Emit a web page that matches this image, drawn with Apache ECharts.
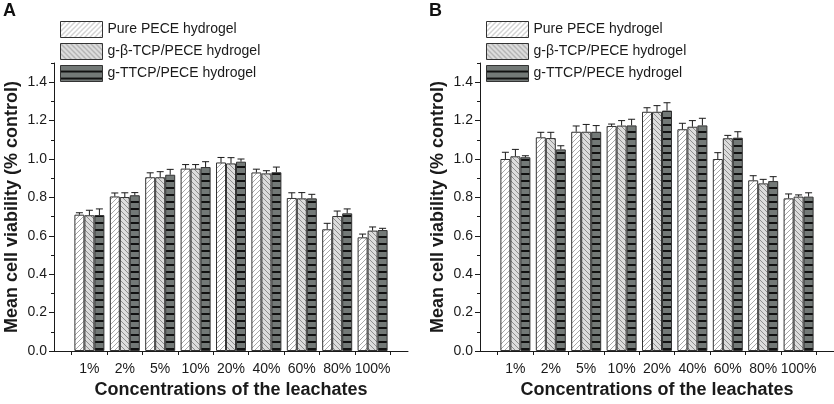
<!DOCTYPE html>
<html>
<head>
<meta charset="utf-8">
<script src="https://cdn.jsdelivr.net/npm/echarts@6/dist/echarts.min.js"></script>
<style>
  html, body { margin: 0; padding: 0; background: #fff; }
  #chart { width: 834px; height: 404px; }
</style>
</head>
<body>
<div id="chart"></div>
<script>
const categories = ['1%', '2%', '5%', '10%', '20%', '40%', '60%', '80%', '100%'];
const seriesNames = ['Pure PECE hydrogel', 'g-\u03b2-TCP/PECE hydrogel', 'g-TTCP/PECE hydrogel'];

// panel A
const pureA = [0.710, 0.805, 0.905, 0.950, 0.982, 0.930, 0.797, 0.634, 0.592];
const pureErrA = [0.010, 0.018, 0.023, 0.021, 0.026, 0.017, 0.027, 0.031, 0.017];
const betaA = [0.707, 0.802, 0.905, 0.950, 0.977, 0.925, 0.795, 0.703, 0.627];
const betaErrA = [0.026, 0.022, 0.029, 0.021, 0.030, 0.014, 0.030, 0.026, 0.019];
const ttcpA = [0.708, 0.811, 0.918, 0.958, 0.986, 0.931, 0.795, 0.717, 0.630];
const ttcpErrA = [0.032, 0.014, 0.028, 0.028, 0.014, 0.027, 0.021, 0.023, 0.009];

// panel B
const pureB = [1.000, 1.113, 1.142, 1.172, 1.246, 1.155, 1.000, 0.889, 0.795];
const pureErrB = [0.035, 0.026, 0.030, 0.010, 0.021, 0.031, 0.033, 0.024, 0.023];
const betaB = [1.014, 1.109, 1.142, 1.174, 1.246, 1.168, 1.108, 0.873, 0.804];
const betaErrB = [0.036, 0.030, 0.038, 0.026, 0.032, 0.032, 0.015, 0.021, 0.009];
const ttcpB = [1.009, 1.050, 1.142, 1.175, 1.252, 1.175, 1.111, 0.885, 0.804];
const ttcpErrB = [0.008, 0.019, 0.032, 0.032, 0.041, 0.037, 0.031, 0.023, 0.020];

const yMin = 0, yMax = 1.5, yStep = 0.2;

const FONT = 'Liberation Sans, Arial, sans-serif';
const BAR_W = 10;
const INK = '#1a1a1a';

function diagonalPattern(bg, line, dir) {
  const s = 5;
  const c = document.createElement('canvas');
  c.width = s; c.height = s;
  const ctx = c.getContext('2d');
  ctx.fillStyle = bg;
  ctx.fillRect(0, 0, s, s);
  ctx.strokeStyle = line;
  ctx.lineWidth = 1;
  ctx.beginPath();
  for (let k = -1; k <= 1; k++) {
    if (dir > 0) {
      ctx.moveTo(k * s, s); ctx.lineTo(k * s + s, 0);
    } else {
      ctx.moveTo(k * s, 0); ctx.lineTo(k * s + s, s);
    }
  }
  ctx.stroke();
  return { image: c, repeat: 'repeat' };
}

function stripePattern() {
  const c = document.createElement('canvas');
  c.width = 4; c.height = 7;
  const ctx = c.getContext('2d');
  ctx.fillStyle = '#737977';
  ctx.fillRect(0, 0, 4, 7);
  ctx.fillStyle = '#111';
  ctx.fillRect(0, 5, 4, 2);
  return { image: c, repeat: 'repeat' };
}

const fills = [
  diagonalPattern('#ffffff', '#a8a8a8', 1),
  diagonalPattern('#dcdcdc', '#8e8e8e', -1),
  stripePattern()
];

const panels = [
  { left: 54, label: 'A', values: [pureA, betaA, ttcpA], errs: [pureErrA, betaErrA, ttcpErrA] },
  { left: 480, label: 'B', values: [pureB, betaB, ttcpB], errs: [pureErrB, betaErrB, ttcpErrB] }
];

const grid = [], xAxis = [], yAxis = [], series = [], legend = [], title = [];
const plotW = 354, bandW = plotW / (categories.length + 1);

panels.forEach(function (p, pi) {
  const outer = grid.length;
  grid.push({ left: p.left, width: plotW, top: 63, height: 288 });
  const inner = grid.length;
  grid.push({ left: p.left + bandW / 2, width: plotW - bandW, top: 63, height: 288 });

  // frame axis spanning the full width
  xAxis.push({
    type: 'value', gridIndex: outer, min: 0, max: 1,
    axisLine: { show: true, lineStyle: { color: INK, width: 1 } },
    axisTick: { show: false }, axisLabel: { show: false }, splitLine: { show: false }
  });
  const catAxis = xAxis.length;
  xAxis.push({
    type: 'category', gridIndex: inner, data: categories,
    axisLine: { show: true, lineStyle: { color: INK, width: 1 } },
    axisTick: { show: true, length: 4, lineStyle: { color: INK } },
    axisLabel: { color: INK, fontSize: 14, fontFamily: FONT, margin: 11, interval: 0 },
    name: 'Concentrations of the leachates', nameLocation: 'middle', nameGap: 29,
    nameTextStyle: { color: INK, fontSize: 18, fontWeight: 'bold', fontFamily: FONT }
  });

  yAxis.push({
    type: 'value', gridIndex: outer, position: 'left', min: yMin, max: yMax, interval: yStep,
    axisLine: { show: true, lineStyle: { color: INK, width: 1 } },
    axisTick: { show: true, length: 5, lineStyle: { color: INK } },
    axisLabel: { color: INK, fontSize: 14, fontFamily: FONT, margin: 7, showMaxLabel: false,
      formatter: function (v) { return v.toFixed(1); } },
    splitLine: { show: false },
    name: 'Mean cell viability (% control)', nameLocation: 'middle', nameGap: 33,
    nameTextStyle: { color: INK, fontSize: 18, fontWeight: 'bold', fontFamily: FONT }
  });
  yAxis.push({
    type: 'value', gridIndex: outer, position: 'left', offset: 0,
    min: yMin, max: yMax, interval: yStep / 2,
    axisLine: { show: false },
    axisTick: { show: true, length: 3, lineStyle: { color: INK } },
    axisLabel: { show: false }, splitLine: { show: false }
  });
  const valAxis = yAxis.length;
  yAxis.push({ type: 'value', gridIndex: inner, min: yMin, max: yMax, show: false });

  seriesNames.forEach(function (name, si) {
    series.push({
      name: name, type: 'bar', xAxisIndex: catAxis, yAxisIndex: valAxis,
      data: p.values[si], barWidth: BAR_W, barGap: '0%',
      itemStyle: { color: fills[si], borderColor: '#333', borderWidth: 1 },
      emphasis: { disabled: true }
    });
  });

  const errData = [];
  p.values.forEach(function (vals, si) {
    vals.forEach(function (v, ci) { errData.push([ci, v, p.errs[si][ci], si]); });
  });
  series.push({
    type: 'custom', xAxisIndex: catAxis, yAxisIndex: valAxis, z: 5,
    data: errData,
    renderItem: function (params, api) {
      const base = api.coord([api.value(0), api.value(1)]);
      const top = api.coord([api.value(0), api.value(1) + api.value(2)]);
      const x = base[0] + (api.value(3) - 1) * BAR_W;
      const style = { stroke: INK, lineWidth: 1 };
      return {
        type: 'group',
        children: [
          { type: 'line', shape: { x1: x, y1: base[1], x2: x, y2: top[1] }, style: style },
          { type: 'line', shape: { x1: x - 3.5, y1: top[1], x2: x + 3.5, y2: top[1] }, style: style }
        ]
      };
    }
  });

  legend.push({
    data: seriesNames, orient: 'vertical', left: p.left + 6, top: 21,
    itemWidth: 42, itemHeight: 16, itemGap: 5, padding: 0,
    icon: 'rect', selectedMode: false,
    itemStyle: { borderColor: '#333', borderWidth: 1 },
    textStyle: { color: INK, fontSize: 14, fontFamily: FONT }
  });

  title.push({
    text: p.label, left: p.left - 51, top: 2, padding: 0,
    textStyle: { color: '#111', fontSize: 18, fontWeight: 'bold', fontFamily: FONT }
  });
});

const chart = echarts.init(document.getElementById('chart'));
chart.setOption({
  animation: false,
  textStyle: { fontFamily: FONT },
  title: title,
  legend: legend,
  grid: grid,
  xAxis: xAxis,
  yAxis: yAxis,
  series: series
});
</script>
</body>
</html>
